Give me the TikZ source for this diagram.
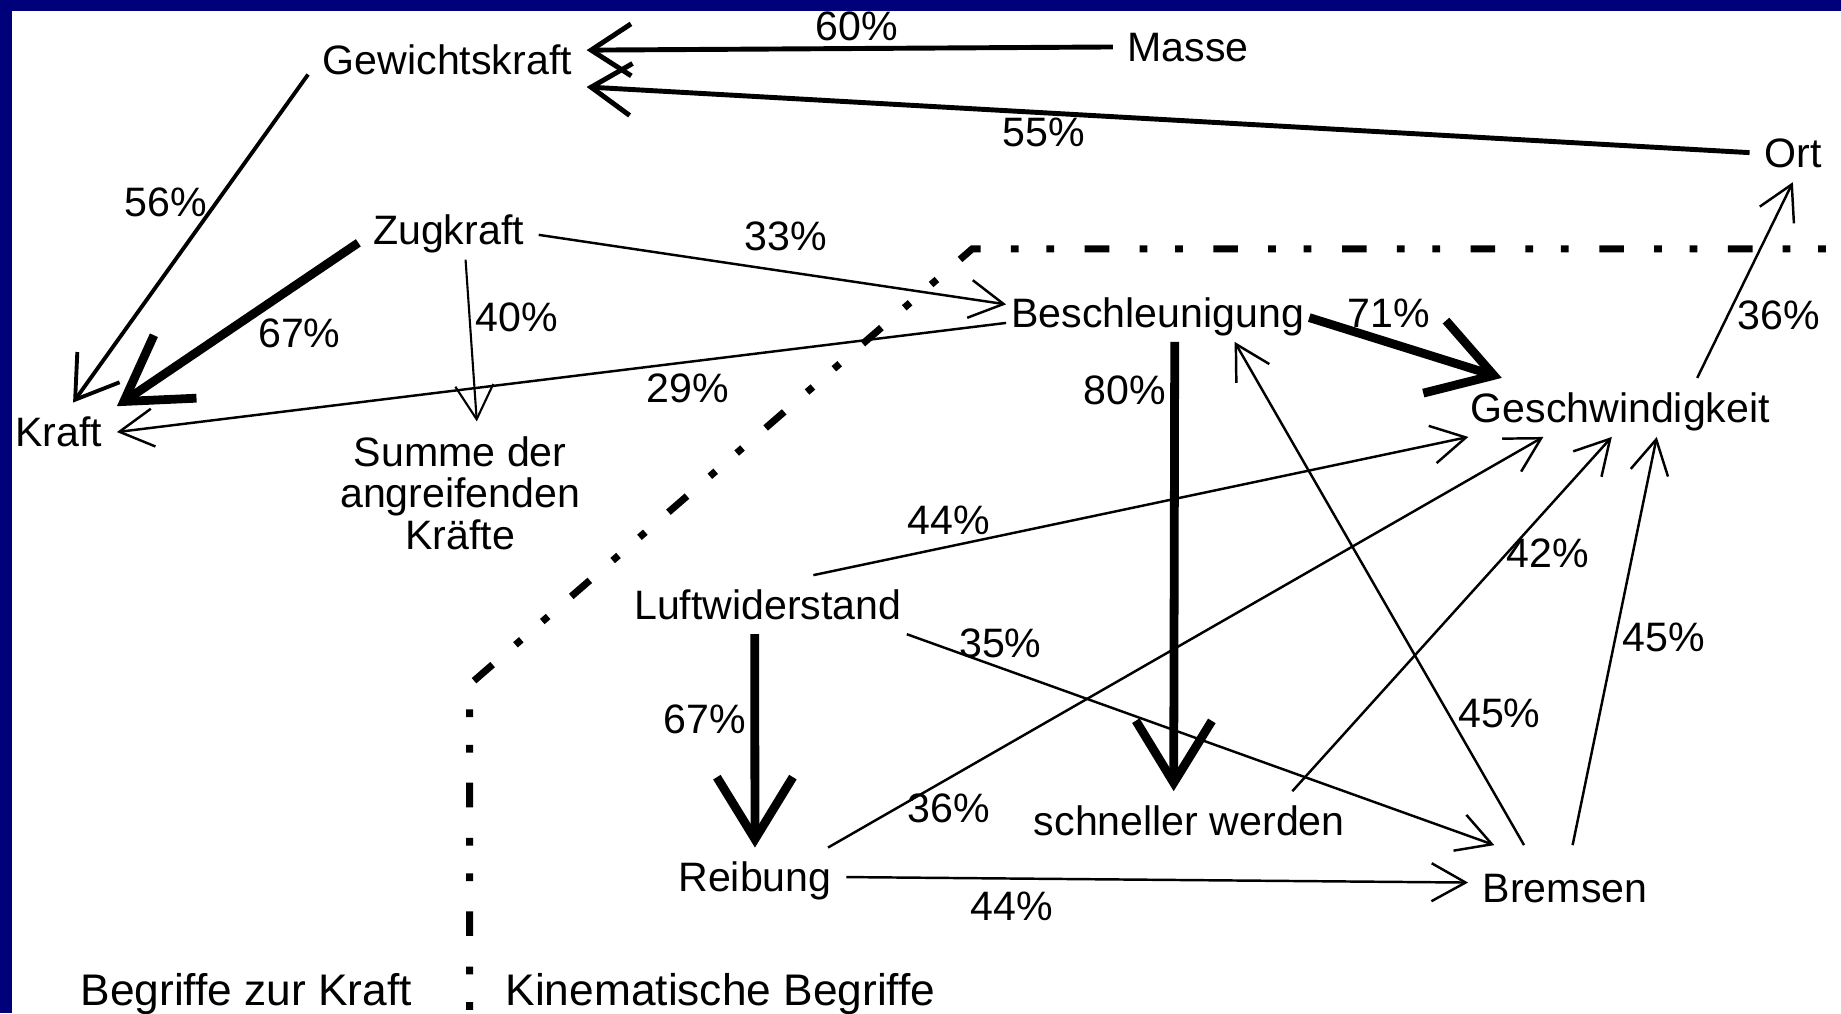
\documentclass[tikz,border=0pt]{standalone}
\usepackage{fontspec}
\setmainfont{Liberation Sans}
\usetikzlibrary{arrows.meta}
\definecolor{rand}{RGB}{0,0,122}

\begin{document}
\begin{tikzpicture}[x=0.11741mm,y=-0.11741mm,
  schrift/.style={font=\fontsize{11.7}{11.9}\selectfont},
  begriff/.style={schrift,inner sep=4pt,text height=8.4pt,text depth=0pt},
  prozent/.style={schrift,inner sep=0pt,text height=8.4pt,text depth=0pt},
  bereich/.style={font=\fontsize{12.6}{13}\selectfont,inner sep=0pt,text height=9pt,text depth=0pt,anchor=west},
  duenn/.style={line width=0.7pt,-{Straight Barb[length=3.4mm,width=3.8mm]}},
  mittel/.style={line width=1.3pt,-{Straight Barb[length=4mm,width=5.2mm]}},
  dick/.style={line width=2.5pt,-{Straight Barb[length=6.2mm,width=7.6mm]}},
  grenze/.style={line width=2pt,dash pattern=on 7pt off 8.7pt on 2.2pt off 7.9pt on 2.2pt off 8.6pt,dash phase=7.4pt}]
\fill[rand] (0,0) rectangle (1568,863);
\fill[white] (10,9) rectangle (1568,863);
\useasboundingbox (0,0) rectangle (1568,863);
% Begriffe
\node[begriff] (gew) at (381,51) {Gewichtskraft};
\node[begriff] (masse) at (1012,40) {Masse};
\node[begriff] (ort) at (1527,130) {Ort};
\node[begriff] (zug) at (382,196) {Zugkraft};
\node[begriff,inner xsep=1.3pt] (besch) at (986,266) {Beschleunigung};
\node[begriff] (kraft) at (50,368) {Kraft};
\node[schrift,inner sep=4pt,align=center] (summe) at (392,420) {Summe der\\angreifenden\\Kräfte};
\node[begriff] (geschw) at (1380,347) {Geschwindigkeit};
\node[begriff] (luft) at (654,515) {Luftwiderstand};
\node[begriff] (schneller) at (1013,699) {schneller werden};
\node[begriff] (reibung) at (643,747) {Reibung};
\node[begriff,inner ysep=7.7pt] (bremsen) at (1333,756) {Bremsen};
\node[bereich] (kraftbegriffe) at (68,843) {Begriffe zur Kraft};
\node[bereich] (kinematik) at (430,843) {Kinematische Begriffe};
% Trennlinie
\draw[grenze] (1580,212) -- (828,212) -- (400,583) -- (400,875);
% Pfeile
\draw[mittel,line width=1.4pt] (masse.west) -- (gew.4);
\draw[mittel,line width=1.4pt] (ort.west) -- (gew.-11);
\draw[mittel,line width=1.1pt] (gew.186) -- (kraft.64);
\draw[dick] (zug.188) -- (kraft.24);
\draw[duenn,line width=0.6pt] (zug.-60) -- (summe.77);
\draw[duenn] (zug.-3) -- (besch.177);
\draw[duenn] (besch.184) -- (kraft.east);
\draw[dick] (besch.-2) -- (geschw.166);
\draw[dick] (besch.-60) -- (schneller.118);
\draw[duenn] (geschw.21) -- (ort.south);
\draw[duenn] (luft.33) -- (geschw.191);
\draw[dick] (luft.246) -- (reibung.north);
\draw[duenn] (luft.-12) -- (bremsen.149);
\draw[duenn] (reibung.22) -- (geschw.201);
\draw[duenn] (reibung.east) -- (bremsen.177);
\draw[duenn] (schneller.16) -- (geschw.254);
\draw[duenn] (bremsen.134) -- (besch.-21);
\draw[duenn] (bremsen.80) -- (geschw.-39);
% Anteile
\node[prozent] (p60) at (730,22) {60\%};
\node[prozent] (p55) at (889,112) {55\%};
\node[prozent] (p56) at (141,172) {56\%};
\node[prozent] (p33) at (669,201) {33\%};
\node[prozent] (p67a) at (255,283) {67\%};
\node[prozent] (p40) at (440,270) {40\%};
\node[prozent] (p29) at (586,330) {29\%};
\node[prozent] (p71) at (1183,266) {71\%};
\node[prozent] (p36a) at (1515,268) {36\%};
\node[prozent] (p80) at (958,332) {80\%};
\node[prozent] (p44a) at (808,443) {44\%};
\node[prozent] (p35) at (852,547) {35\%};
\node[prozent] (p42) at (1318,471) {42\%};
\node[prozent] (p45a) at (1417,542) {45\%};
\node[prozent] (p67b) at (600,612) {67\%};
\node[prozent] (p45b) at (1277,607) {45\%};
\node[prozent] (p36b) at (808,688) {36\%};
\node[prozent] (p44b) at (862,771) {44\%};
\end{tikzpicture}
\end{document}
